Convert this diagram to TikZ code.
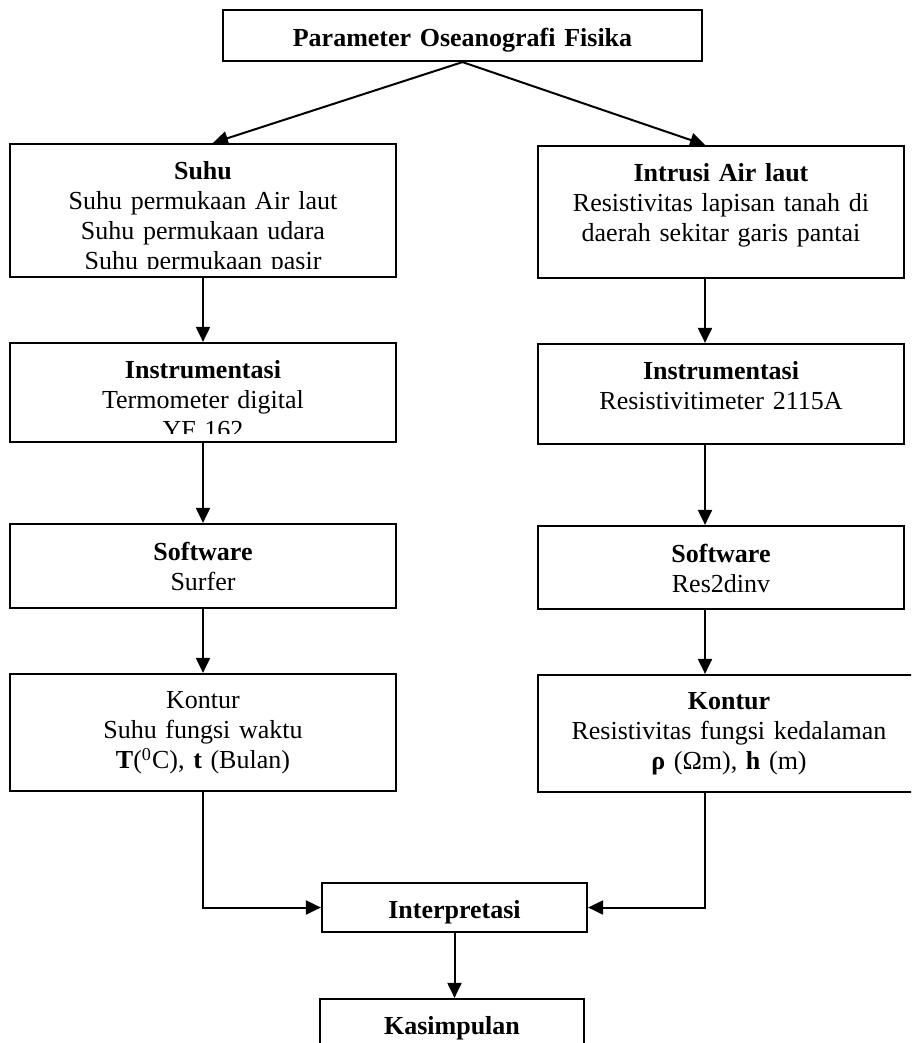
\documentclass[tikz,border=0pt]{standalone}
\usepackage{fontspec}
\setmainfont{Liberation Serif}
\usetikzlibrary{positioning, arrows.meta, calc}

\begin{document}
\begin{tikzpicture}[
  x=0.5pt, y=-0.5pt,
  frameNode/.style={draw=black, line width=1.1pt, inner sep=0pt},
  leftFrame/.style={frameNode, minimum width=193pt},
  rightFrame/.style={frameNode, minimum width=183pt},
  textNode/.style={anchor=north, inner sep=0pt, align=center, font=\fontsize{13}{15}\selectfont},
  arrow/.style={-{Triangle[length=7.5pt, width=7pt]}, line width=1pt, draw=black}
]
\useasboundingbox (0,0) rectangle (911,1043);
\clip (0,0) rectangle (911,1043);

% Top: parameter box
\node[frameNode, minimum width=239.5pt, minimum height=25.5pt] (param) at (462.5,35.5) {};
\node[textNode, text width=235pt] (paramTxt) at ([yshift=-9.2pt]param.north) {\textbf{Parameter Oseanografi Fisika}};

% Left column: temperature
\node[leftFrame, minimum height=66.5pt] (suhu) at (203,210.5) {};
\node[leftFrame, minimum height=49.5pt] (instrL) at (203,392.5) {};
\node[leftFrame, minimum height=42pt] (softL) at (203,566) {};
\node[leftFrame, minimum height=58.5pt] (konL) at (203,732.5) {};

\begin{scope}
  \clip (suhu.north west) rectangle ([yshift=5pt]suhu.south east);
  \node[textNode, text width=186pt] (suhuTxt) at ([yshift=-9.2pt]suhu.north) {\textbf{Suhu}\\Suhu permukaan Air laut\\Suhu permukaan udara\\Suhu permukaan pasir};
\end{scope}
\begin{scope}
  \clip (instrL.north west) rectangle ([yshift=5pt]instrL.south east);
  \node[textNode, text width=186pt] (instrLTxt) at ([yshift=-9.2pt]instrL.north) {\textbf{Instrumentasi}\\Termometer digital\\YF 162};
\end{scope}
\node[textNode, text width=186pt] (softLTxt) at ([yshift=-9.2pt]softL.north) {\textbf{Software}\\Surfer};
\node[textNode, text width=186pt] (konLTxt) at ([yshift=-9.2pt]konL.north) {Kontur\\Suhu fungsi waktu\\\textbf{T}(\textsuperscript{0}C), \textbf{t} (Bulan)};

% Right column: sea water intrusion
\coordinate (rcol) at (705,0);
\node[rightFrame, minimum height=66pt] (intrusi) at (721,212) {};
\node[rightFrame, minimum height=50pt] (instrR) at (721,394) {};
\node[rightFrame, minimum height=41.5pt] (softR) at (721,567.5) {};
\node[frameNode, minimum width=191pt, minimum height=58.5pt] (konR) at (729,733.5) {};

\node[textNode, text width=178pt] (intrusiTxt) at ([yshift=-9.2pt]intrusi.north) {\textbf{Intrusi Air laut}\\Resistivitas lapisan tanah di\\daerah sekitar garis pantai};
\node[textNode, text width=178pt] (instrRTxt) at ([yshift=-9.2pt]instrR.north) {\textbf{Instrumentasi}\\Resistivitimeter 2115A};
\node[textNode, text width=178pt] (softRTxt) at ([yshift=-9.2pt]softR.north) {\textbf{Software}\\Res2dinv};
\node[textNode, text width=186pt] (konRTxt) at ([yshift=-9.2pt]konR.north) {\textbf{Kontur}\\Resistivitas fungsi kedalaman\\\textbf{ρ} (Ωm), \textbf{h} (m)};

% Bottom: interpretation and conclusion
\node[frameNode, minimum width=132.5pt, minimum height=24.5pt] (interp) at (454.5,907.5) {};
\node[textNode, text width=128pt] (interpTxt) at ([yshift=-9.2pt]interp.north) {\textbf{Interpretasi}};
\node[frameNode, minimum width=132pt, minimum height=30.5pt] (kasim) at (452,1029.5) {};
\node[textNode, text width=128pt] (kasimTxt) at ([yshift=-9.2pt]kasim.north) {\textbf{Kasimpulan}};

% Connectors
\draw[arrow] (param.south) -- ([xshift=5pt]suhu.north);
\draw[arrow] (param.south) -- (intrusi.north -| rcol);

\draw[arrow] (suhu.south) -- (instrL.north);
\draw[arrow] (instrL.south) -- (softL.north);
\draw[arrow] (softL.south) -- (konL.north);

\draw[arrow] (intrusi.south -| rcol) -- (instrR.north -| rcol);
\draw[arrow] (instrR.south -| rcol) -- (softR.north -| rcol);
\draw[arrow] (softR.south -| rcol) -- (konR.north -| rcol);

\draw[arrow] (konL.south) |- (interp.west);
\draw[arrow] (konR.south -| rcol) |- (interp.east);
\draw[arrow] (interp.south) -- (interp.south |- kasim.north);

\end{tikzpicture}
\end{document}
